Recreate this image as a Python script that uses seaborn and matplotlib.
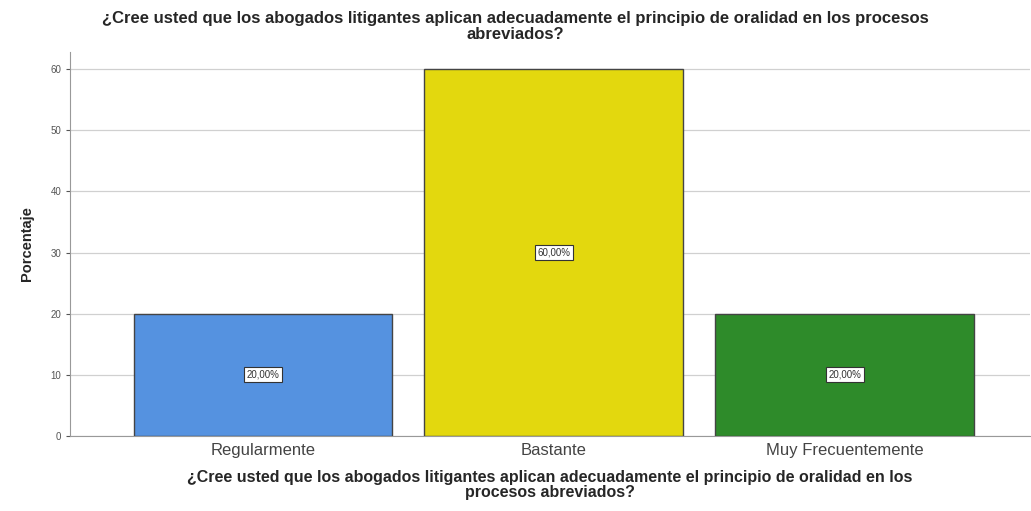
import pandas as pd
import matplotlib.pyplot as plt
import seaborn as sns

categorias = ['Regularmente', 'Bastante', 'Muy Frecuentemente']
porcentajes = [20, 60, 20]
etiquetas = ['20,00%', '60,00%', '20,00%']
colores = ['#5592E0', '#E3D80E', '#2E8B2A']

titulo = ('¿Cree usted que los abogados litigantes aplican adecuadamente el principio de oralidad en los procesos\n'
          'abreviados?')
eje_x = ('¿Cree usted que los abogados litigantes aplican adecuadamente el principio de oralidad en los\n'
         'procesos abreviados?')

df = pd.DataFrame({'cat': categorias, 'pct': porcentajes})

sns.set_style('white')
plt.rcParams['font.family'] = ['Liberation Sans', 'DejaVu Sans']

fig = plt.figure(figsize=(10.31, 5.11), dpi=100)
ax = fig.add_axes([0.068, 0.147, 0.931, 0.751])

sns.barplot(data=df, x='cat', y='pct', hue='cat', palette=colores, legend=False,
            width=0.89, edgecolor='#444444', linewidth=1.0, saturation=1, ax=ax, zorder=3)

ax.set_ylim(0, 62.8)
ax.set_xlim(-0.663, 2.636)
ax.set_yticks(range(0, 61, 10))
ax.yaxis.grid(True, color='#d0d0d0', linewidth=0.9, zorder=0)
ax.set_axisbelow(True)
ax.tick_params(axis='y', labelsize=7, colors='#555555', length=3, left=True)
ax.tick_params(axis='x', labelsize=12, colors='#444444', length=0, pad=5)

for s in ['top', 'right']:
    ax.spines[s].set_visible(False)
for s in ['left', 'bottom']:
    ax.spines[s].set_color('#999999')

for i, (v, t) in enumerate(zip(porcentajes, etiquetas)):
    ax.text(i, v / 2, t, ha='center', va='center', fontsize=7, color='#333333', zorder=5,
            bbox=dict(boxstyle='square,pad=0.25', facecolor='white', edgecolor='#333333', linewidth=0.8))

ax.set_ylabel('Porcentaje', fontsize=10.5, fontweight='bold', labelpad=12)
ax.set_xlabel(eje_x, fontsize=11.5, fontweight='bold', labelpad=9, linespacing=1.0)
fig.suptitle(titulo, fontsize=12, fontweight='bold', y=0.978, linespacing=1.05)

fig.savefig('out.png', dpi=100)
